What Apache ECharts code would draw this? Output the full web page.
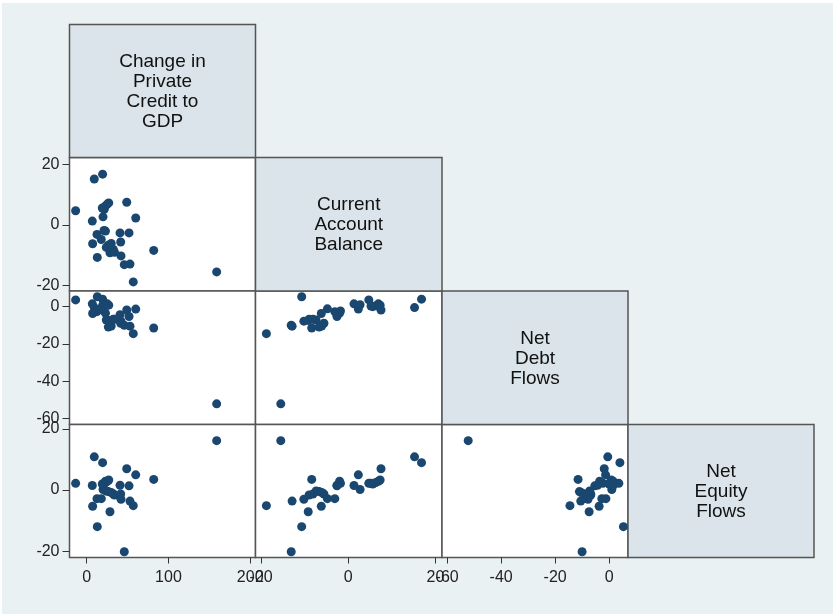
<!DOCTYPE html>
<html>
<head>
<meta charset="utf-8">
<script src="https://cdn.jsdelivr.net/npm/echarts@6/dist/echarts.min.js"></script>
<style>
  html, body { margin: 0; padding: 0; background: #ffffff; }
  #chart { width: 833px; height: 614px; }
</style>
</head>
<body>
<div id="chart"></div>
<script>
// One entry per country: the four flow variables of the scatter matrix
const credit  = [-13.5, 9.3, 19.5, 19.1, 25.2, 23.0, 49.0, 60.0, 6.9, 20.0, 12.6, 21.2, 23.0, 17.9, 7.3, 13.0, 26.5, 32.6, 28.5, 34.0, 40.8, 51.8, 41.6, 42.0, 46.0, 53.0, 57.0, 82.0, 159.0, 24.0, 21.5, 27.0, 30.0];
const account = [4.7, 15.2, 16.8, 5.6, 6.9, 6.3, 7.5, 2.3, 1.3, 2.7, -3.1, -1.8, -2.0, -4.8, -6.2, -10.7, -6.7, -8.1, -9.2, -9.0, -2.6, -2.6, -5.6, -10.2, -13.1, -12.9, -18.8, -8.4, -15.5, -7.4, 5.2, 7.3, -6.1];
const debt    = [3.6, -0.5, 4.0, 0.0, 1.5, 0.5, -1.8, -1.3, 1.5, 1.0, -2.7, -2.3, -3.5, -1.2, -3.7, 5.3, -11.0, -6.8, -7.4, -6.8, -4.3, -5.3, -8.9, -7.8, -10.0, -10.5, -14.5, -11.5, -52.2, -7.2, 0.3, 0.8, -10.4];
const equity  = [2.2, 10.9, 9.0, 2.0, 2.9, 2.5, 7.0, 5.0, 1.5, 0.2, -2.8, 2.2, 2.9, -2.8, -5.3, -12.0, -0.5, -1.3, -7.1, -1.6, 1.6, 1.4, -1.3, -3.0, -20.2, -3.6, -5.1, 3.5, 16.2, -0.3, 2.2, 3.3, -0.8];

// Variable names shown on the diagonal
const varLabels = ['Change in\nPrivate\nCredit to\nGDP', 'Current\nAccount\nBalance', 'Net\nDebt\nFlows', 'Net\nEquity\nFlows'];

// Tick labels for each variable
const creditTicks  = [0, 100, 200];
const accountTicks = [-20, 0, 20];
const debtTicks    = [-60, -40, -20, 0];
const equityTicks  = [-20, 0, 20];

const columns = [credit, account, debt, equity];
const tickSets = [creditTicks, accountTicks, debtTicks, equityTicks];

// Layout of the matrix cells (pixel edges)
const colX = [69.5, 255.5, 442, 628, 814];
const rowY = [24.5, 157.5, 291, 424.5, 557.5];
// Axis extents when a variable is on the horizontal / vertical axis
const xExtent = [[-21, 206.5], [-21.3, 21.5], [-61.9, 7.0], [-22, 22]];
const yExtent = [[-21, 206.5], [-21.8, 22.3], [-63.3, 8.4], [-22.1, 21.5]];

const FONT = '"Liberation Sans", Arial, Helvetica, sans-serif';
const NAVY = '#1a476f';
const FRAME = '#555555';

const grids = [], xAxes = [], yAxes = [], series = [];
let gi = 0;
for (let r = 1; r < 4; r++) {
  for (let c = 0; c < r; c++) {
    grids.push({
      left: colX[c], top: rowY[r],
      width: colX[c + 1] - colX[c], height: rowY[r + 1] - rowY[r],
      show: true, backgroundColor: '#ffffff', borderColor: FRAME, borderWidth: 1.5
    });
    const showX = r === 3;
    const showY = c === 0;
    xAxes.push({
      type: 'value', gridIndex: gi, position: 'bottom',
      min: xExtent[c][0], max: xExtent[c][1],
      splitLine: { show: false },
      axisLine: { show: false, onZero: false },
      axisTick: { show: showX, inside: false, length: 6, lineStyle: { color: '#333', width: 1 }, customValues: tickSets[c] },
      axisLabel: { show: showX, margin: 12, fontSize: 16, color: '#222', fontFamily: FONT, customValues: tickSets[c] }
    });
    yAxes.push({
      type: 'value', gridIndex: gi, position: 'left',
      min: yExtent[r][0], max: yExtent[r][1],
      splitLine: { show: false },
      axisLine: { show: false, onZero: false },
      axisTick: { show: showY, inside: false, length: 7, lineStyle: { color: '#333', width: 1 }, customValues: tickSets[r] },
      axisLabel: { show: showY, margin: 10, fontSize: 16, color: '#222', fontFamily: FONT, customValues: tickSets[r] }
    });
    const xs = columns[c], ys = columns[r];
    series.push({
      type: 'scatter', xAxisIndex: gi, yAxisIndex: gi,
      symbol: 'circle', symbolSize: 9,
      itemStyle: { color: NAVY, opacity: 1 },
      data: xs.map((v, i) => [v, ys[i]]),
      silent: true
    });
    gi++;
  }
}

// Diagonal name cells and the outer background
const graphics = [{
  type: 'rect', z: -10, silent: true,
  shape: { x: 2, y: 3, width: 831, height: 611 },
  style: { fill: '#e9f1f3' }
}];
for (let k = 0; k < 4; k++) {
  graphics.push({
    type: 'rect', z: 1, silent: true,
    shape: { x: colX[k], y: rowY[k], width: colX[k + 1] - colX[k], height: rowY[k + 1] - rowY[k] },
    style: { fill: '#dae4ea', stroke: FRAME, lineWidth: 1.5 }
  });
  graphics.push({
    type: 'text', z: 2, silent: true,
    x: (colX[k] + colX[k + 1]) / 2, y: (rowY[k] + rowY[k + 1]) / 2 + 1,
    style: {
      text: varLabels[k], fill: '#111', font: '19px ' + FONT,
      align: 'center', verticalAlign: 'middle', lineHeight: 20
    }
  });
}

const chart = echarts.init(document.getElementById('chart'), null, { renderer: 'canvas' });
chart.setOption({
  animation: false,
  graphic: graphics,
  grid: grids,
  xAxis: xAxes,
  yAxis: yAxes,
  series: series
});
</script>
</body>
</html>
